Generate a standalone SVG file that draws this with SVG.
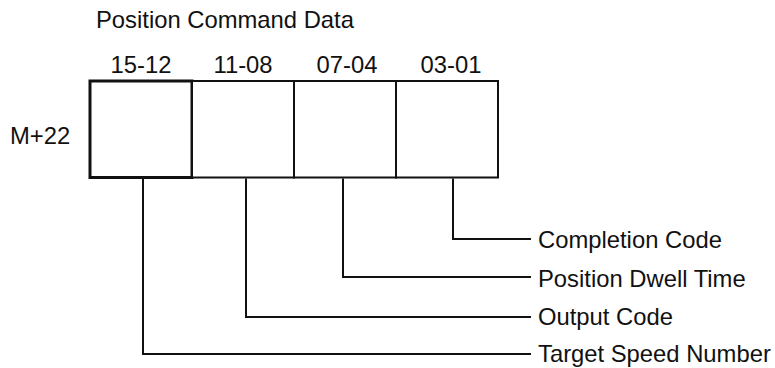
<svg xmlns="http://www.w3.org/2000/svg" width="775" height="368" viewBox="0 0 775 368">
<style>
text{font-family:"Liberation Sans",Arial,sans-serif;font-size:23.8px;fill:#111}
.c{fill:#fff;stroke:#111;stroke-width:2}
.c1{stroke-width:3}
.l{fill:none;stroke:#111;stroke-width:2}
.m{text-anchor:middle}
</style>
<rect width="775" height="368" fill="#fff"/>
<text x="96" y="28">Position Command Data</text>
<text x="10" y="144">M+22</text>
<g id="cell-15-12"><rect class="c c1" x="90" y="81" width="102" height="96.5"/><text class="m" x="141" y="73">15-12</text></g>
<g id="cell-11-08"><rect class="c" x="192" y="81" width="102" height="96.5"/><text class="m" x="243" y="73">11-08</text></g>
<g id="cell-07-04"><rect class="c" x="294" y="81" width="102" height="96.5"/><text class="m" x="347" y="73">07-04</text></g>
<g id="cell-03-01"><rect class="c" x="396" y="81" width="102" height="96.5"/><text class="m" x="451" y="73">03-01</text></g>
<g id="connectors">
<polyline class="l" points="453,178.5 453,239 531,239"/>
<polyline class="l" points="343,178.5 343,277 531,277"/>
<polyline class="l" points="246,178.5 246,317 531,317"/>
<polyline class="l" points="143,179 143,354 531,354"/>
</g>
<g id="labels">
<text x="538" y="248">Completion Code</text>
<text x="538" y="287">Position Dwell Time</text>
<text x="538" y="325">Output Code</text>
<text x="538" y="362">Target Speed Number</text>
</g>
</svg>
